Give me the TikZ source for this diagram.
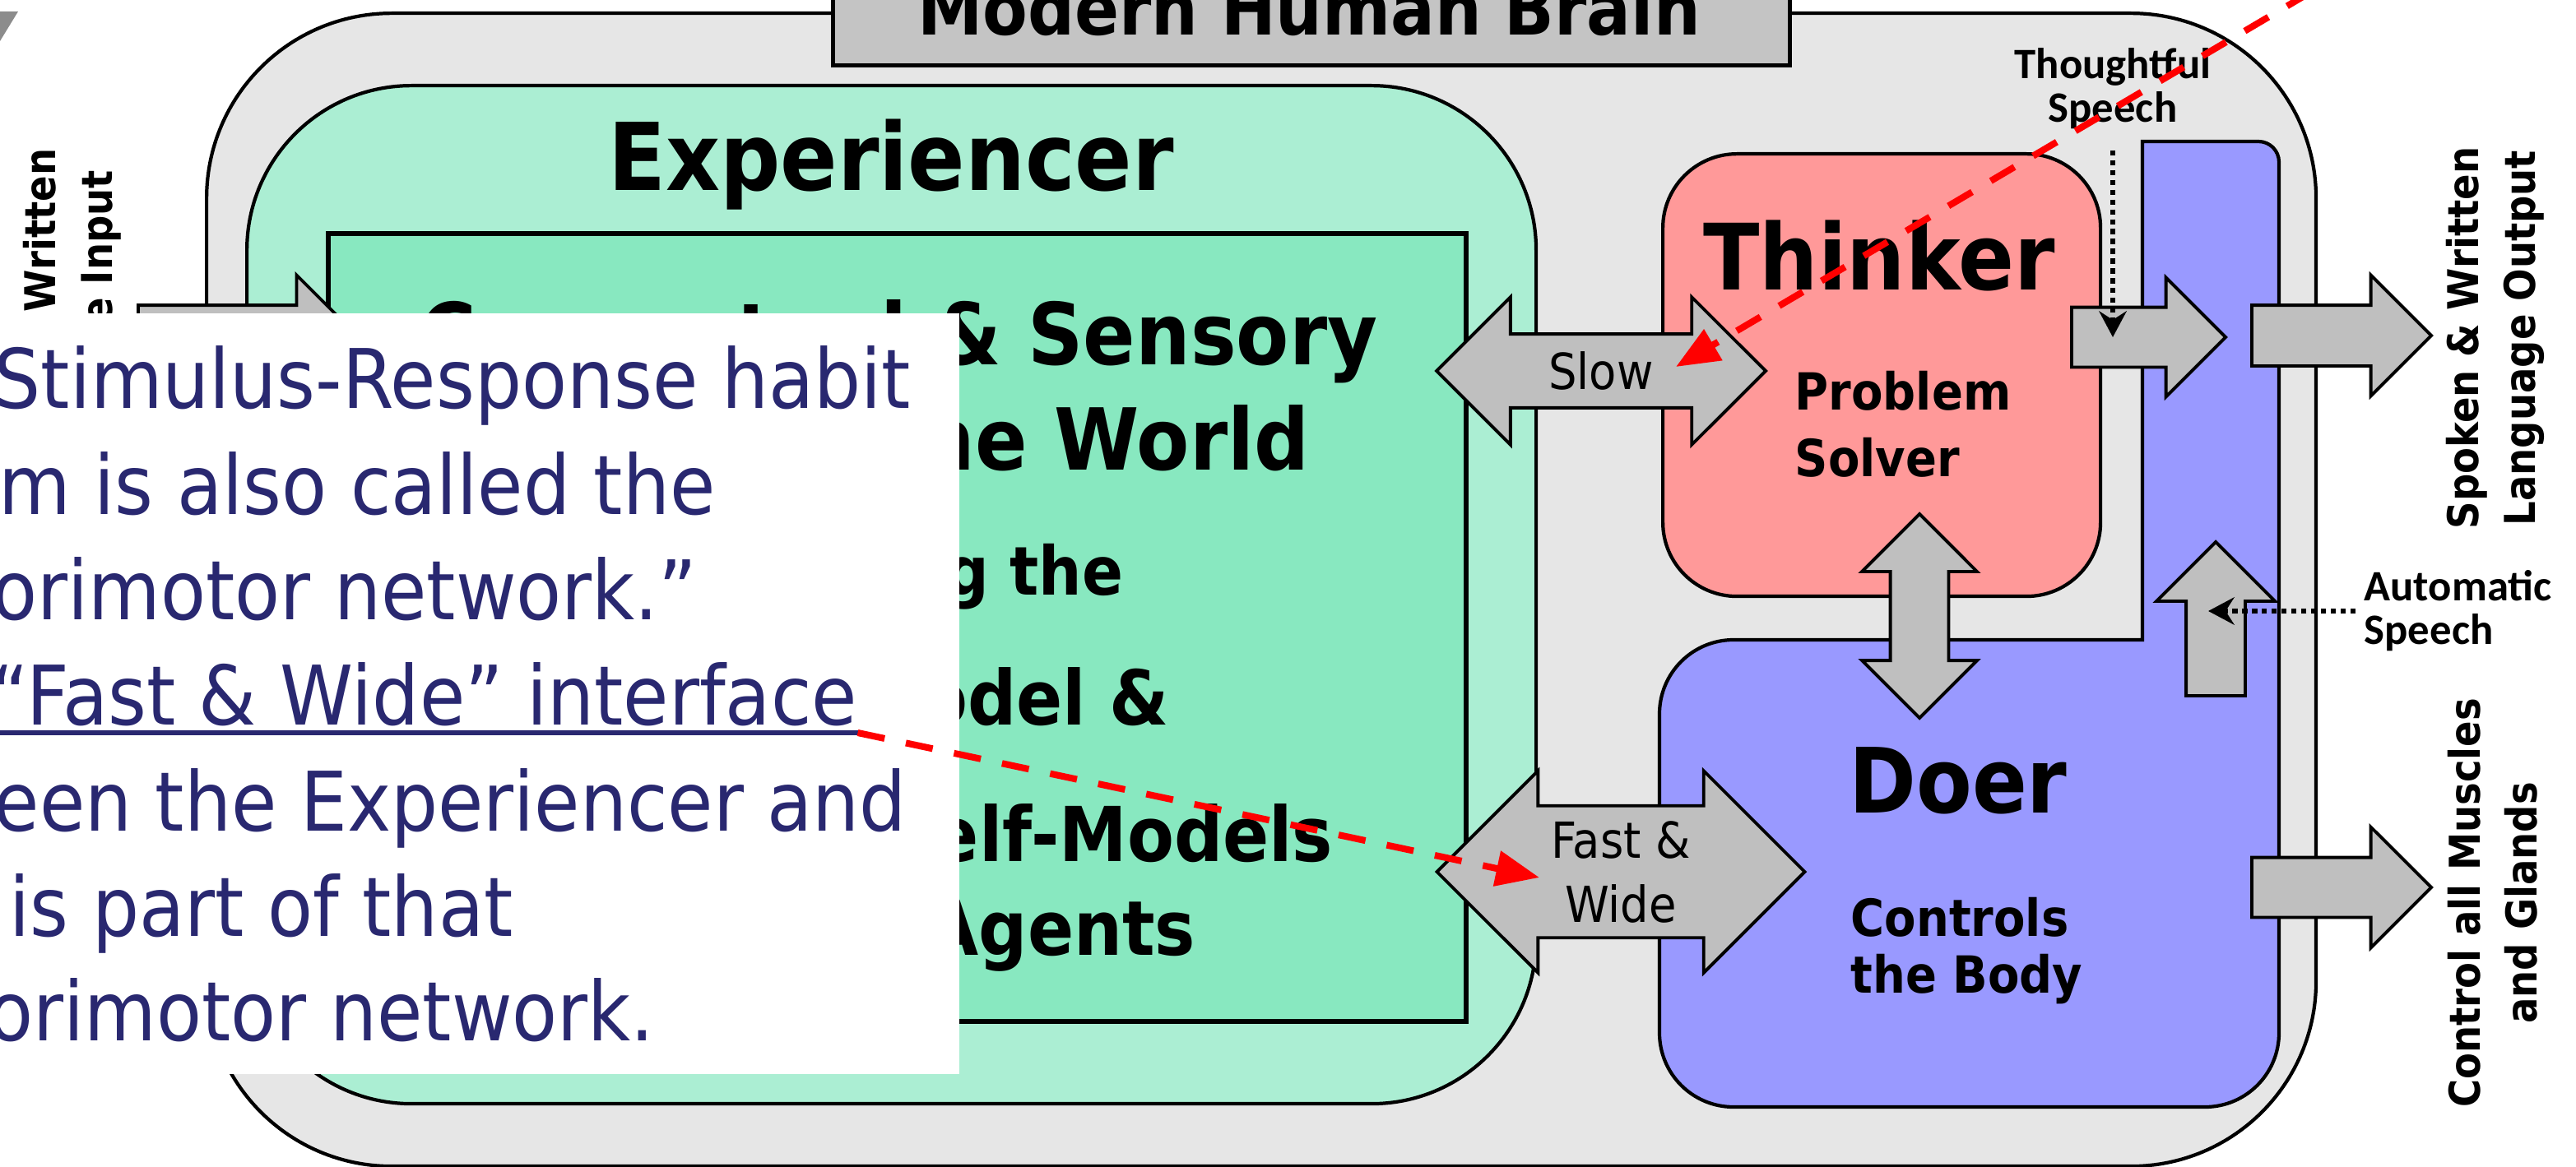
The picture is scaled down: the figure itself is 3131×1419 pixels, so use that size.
\documentclass[tikz,border=0pt]{standalone}
\usepackage{fontspec}
\setmainfont{DejaVu Sans}[FakeStretch=0.9]
\newfontfamily\speechfont{Carlito}
\usetikzlibrary{shapes.arrows,arrows.meta,calc}

\definecolor{braingray}{RGB}{230,230,230}
\definecolor{titlegray}{RGB}{196,196,196}
\definecolor{expgreen}{RGB}{171,238,211}
\definecolor{worldgreen}{RGB}{136,232,192}
\definecolor{thinkred}{RGB}{255,153,153}
\definecolor{doerblue}{RGB}{153,153,255}
\definecolor{arrowgray}{RGB}{191,191,191}
\definecolor{notenavy}{RGB}{41,40,112}
\newcommand{\fsz}[2]{\fontsize{#1}{#2}\selectfont}

\begin{document}
\begin{tikzpicture}[x=0.1mm, y=-0.1mm,
    box/.style={draw, line width=1.2pt},
    txt/.style={inner sep=0pt},
    blockarrow/.style={draw, fill=arrowgray, line width=1.1pt, inner xsep=0pt, outer sep=0pt},
    sidelabel/.style={txt, rotate=90, align=center, font=\bfseries\fsz{14.7}{19.6}},
    speechlabel/.style={txt, font=\speechfont\bfseries\fsz{15}{15.1}},
    speechlink/.style={line width=1.8pt, dash pattern=on 1.8pt off 1.6pt, -{Stealth[length=9pt,width=9.5pt,inset=3pt]}},
    notearrow/.style={draw=red, line width=2.3pt, dash pattern=on 9.5pt off 7.5pt, -{Triangle[length=15pt,width=12pt]}},
    noteline/.style={txt, anchor=base west, text=notenavy, font=\fsz{28.45}{36.6}}]
\useasboundingbox (0,0) rectangle (3131,1419);
\clip (0,0) rectangle (3131,1419);

% brain and its parts
\node[box, fill=braingray, rounded corners=22.5mm, minimum width=256.4mm, minimum height=140.2mm, anchor=north west] (brain) at (249,14) {};
\node[draw, line width=1.3pt, fill=titlegray, minimum width=116.3mm, minimum height=15mm, anchor=south west] (title) at (1010,82) {};
\node[txt, anchor=base, font=\bfseries\fsz{25.2}{30}] at (1591,43) {Modern Human Brain};

\node[box, fill=expgreen, rounded corners=20mm, minimum width=156.7mm, minimum height=123.8mm, anchor=north west] (exp) at (298,102) {};
\node[txt, anchor=base, font=\bfseries\fsz{32.4}{38}] at (1083,232) {Experiencer};
\node[draw, line width=1.7pt, fill=worldgreen, minimum width=138.3mm, minimum height=95.8mm, anchor=north west] (world) at (396,281) {};
\node[txt, anchor=base east, font=\bfseries\fsz{29.6}{35}] at (1675,444) {Conceptual \& Sensory};
\node[txt, anchor=base east, font=\bfseries\fsz{29.6}{35}] at (1592,571) {Model of the World};
\node[txt, anchor=base east, font=\bfseries\fsz{23.3}{28}] at (1366,723) {Including the};
\node[txt, anchor=base east, font=\bfseries\fsz{26.2}{31}] at (1422,881) {Self-Model \&};
\node[txt, anchor=base east, font=\bfseries\fsz{26.2}{31}] at (1621,1047) {the Self-Models};
\node[txt, anchor=base east, font=\bfseries\fsz{26.2}{31}] at (1454,1161) {of Other Agents};

\node[box, fill=thinkred, rounded corners=9mm, minimum width=53.2mm, minimum height=53.8mm, anchor=north west] (think) at (2019,185) {};
\node[txt, anchor=base, font=\bfseries\fsz{31.7}{38}] at (2284,353) {Thinker};
\node[txt, anchor=north west, align=left, font=\bfseries\fsz{17.7}{22.8}] at (2181,451) {Problem\\Solver};

% doer with its speech column
\draw[box, fill=doerblue] (2300,778) -- (2604,778) -- (2604,172) [rounded corners=2.5mm] -- (2770,172)
    [rounded corners=9mm] -- (2770,1346) -- (2017,1346) -- (2017,778) -- cycle;
\node[txt, anchor=base, font=\bfseries\fsz{31.2}{38}] (doer) at (2380,988) {Doer};
\node[txt, anchor=north west, align=left, font=\bfseries\fsz{17.7}{19.6}] at (2249,1091) {Controls\\the Body};

% block arrows (inner ysep sets the shaft)
\node[blockarrow, double arrow, double arrow head extend=4.5mm, inner ysep=1.95mm, minimum height=40mm, minimum width=17.5mm, font=\fsz{17.2}{22}] (slow) at (1946,451) {Slow};
\node[blockarrow, double arrow, double arrow head extend=4.25mm, inner ysep=1.65mm, minimum height=44.7mm, minimum width=24.2mm, align=center, font=\fsz{17.2}{22.2}] (fastwide) at (1970,1060) {Fast \&\\Wide};
\node[blockarrow, double arrow, rotate=90, double arrow head extend=3.45mm, inner ysep=3.35mm, minimum height=24.8mm] (link) at (2333,749) {};
\node[blockarrow, single arrow, single arrow head extend=3.6mm, inner ysep=3.45mm, minimum height=18.7mm, anchor=tail] (thoughtarr) at (2518,410) {};
\node[blockarrow, single arrow, rotate=90, single arrow head extend=3.6mm, inner ysep=3.4mm, minimum height=18.7mm, anchor=tail] (autoarr) at (2693,846) {};
\node[blockarrow, single arrow, single arrow head extend=3.65mm, inner ysep=3.5mm, minimum height=21.8mm, anchor=tail] (speechout) at (2737,408) {};
\node[blockarrow, single arrow, single arrow head extend=3.7mm, inner ysep=3.45mm, minimum height=21.8mm, anchor=tail] (bodyout) at (2737,1079) {};

\node[sidelabel] (speechlbl) at (3033,411) {Spoken \& Written\\Language Output};
\node[sidelabel] (bodylbl) at (3030,1098) {Control all Muscles\\and Glands};

\node[speechlabel, align=center] (thoughtlbl) at (2568,108) {Thoughtful\\Speech};
\node[speechlabel, align=left, anchor=west] (autolbl) at (2873,743) {Automatic\\Speech};
\draw[speechlink] ([yshift=-2.5mm]thoughtlbl.south) -- (thoughtlbl.south |- thoughtarr.tip);
\draw[speechlink] ([xshift=-1mm]autolbl.west) -- ($(autoarr.tip |- autolbl.west)+(-9,0)$);

% input side
\node[blockarrow, single arrow, single arrow head extend=3.65mm, inner ysep=3.5mm, minimum height=26.6mm, anchor=tail] (inarr) at (168,408) {};
\node[sidelabel] (inlbl) at (88,413) {Spoken \& Written\\Language Input};
\fill[black!45] (0,14) -- (22,14) -- (0,50) -- cycle;

% note laid over the picture
\node[fill=white, minimum width=127mm, minimum height=92.5mm, anchor=north east] (note) at (1167,380) {};
\node[noteline] at (-8,496) {Stimulus-Response habit};
\node[noteline] at (-2,625) {m is also called the};
\node[noteline] at (-10,753) {orimotor network.”};
\node[noteline] (fastline) at (-12,881) {“Fast \& Wide” interface};
\node[noteline] at (-8,1010) {een the Experiencer and};
\node[noteline] at (11,1138) {is part of that};
\node[noteline] at (-15,1265) {orimotor network.};
\draw[notenavy, line width=1.5pt] ([yshift=-1mm]fastline.base west) -- ([yshift=-1mm]fastline.base east);

\coordinate (farnote) at (2860,-40);
\draw[notearrow] (farnote) -- ([xshift=9.1mm,yshift=0.5mm]slow.center);
\draw[notearrow] ([yshift=-1mm]fastline.base east) -- ([xshift=-9.9mm,yshift=-0.7mm]fastwide.center);
\end{tikzpicture}
\end{document}
